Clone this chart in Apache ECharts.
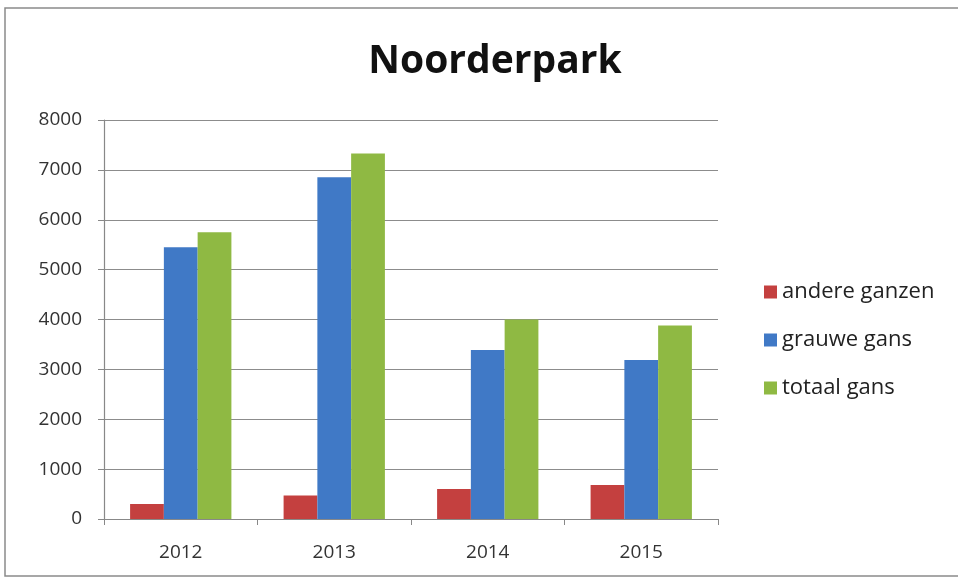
<!DOCTYPE html>
<html><head><meta charset="utf-8">
<script src="https://cdn.jsdelivr.net/npm/echarts@6/dist/echarts.min.js"></script>
<style>html,body{margin:0;padding:0;background:#fff}#c{width:958px;height:581px}</style>
</head><body><div id="c"></div>
<script>
const categories = ['2012', '2013', '2014', '2015'];
const andereGanzen = [300, 470, 600, 680];
const grauweGans = [5450, 6850, 3390, 3190];
const totaalGans = [5750, 7330, 4000, 3880];
const yTicks = { min: 0, max: 8000, interval: 1000 };

const chart = echarts.init(document.getElementById('c'), null, { renderer: 'canvas' });
const font = "'Open Sans', 'Noto Sans', sans-serif";
chart.setOption({
  animation: false,
  textStyle: { fontFamily: font },
  graphic: [{
    type: 'rect', shape: { x: 5, y: 8, width: 960, height: 568 },
    style: { fill: 'none', stroke: '#8a8a8a', lineWidth: 1.5 }, z: -1
  }],
  title: {
    text: 'Noorderpark', left: 490, top: 37, textAlign: 'center',
    textStyle: { fontFamily: font, fontSize: 39, fontWeight: 'bold', color: '#111' }
  },
  legend: {
    orient: 'vertical', left: 759, top: 276, itemWidth: 13, itemHeight: 13, itemGap: 26,
    icon: 'rect',
    textStyle: { fontFamily: font, fontSize: 22, color: '#222', padding: [0, 0, 0, 0] },
    data: ['andere ganzen', 'grauwe gans', 'totaal gans']
  },
  grid: { left: 104, right: 240, top: 120, bottom: 62 },
  xAxis: {
    type: 'category', data: categories,
    axisLine: { lineStyle: { color: '#888', width: 1.2 } },
    axisTick: { show: true, alignWithLabel: false, length: 6, lineStyle: { color: '#888' } },
    axisLabel: { fontFamily: font, fontSize: 19, color: '#333', margin: 24 }
  },
  yAxis: {
    type: 'value', min: yTicks.min, max: yTicks.max, interval: yTicks.interval,
    axisLine: { show: true, lineStyle: { color: '#888', width: 1.2 } },
    axisTick: { show: true, length: 6, lineStyle: { color: '#888' } },
    splitLine: { lineStyle: { color: '#8c8c8c', width: 1.2 } },
    axisLabel: { fontFamily: font, fontSize: 19, color: '#333', margin: 22, formatter: v => String(v) }
  },
  series: [
    { name: 'andere ganzen', type: 'bar', data: andereGanzen, barGap: '0%', barCategoryGap: '34%', itemStyle: { color: '#C4403F' } },
    { name: 'grauwe gans', type: 'bar', data: grauweGans, barGap: '0%', barCategoryGap: '34%', itemStyle: { color: '#4079C6' } },
    { name: 'totaal gans', type: 'bar', data: totaalGans, barGap: '0%', barCategoryGap: '34%', itemStyle: { color: '#8FB943' } }
  ]
});
</script></body></html>
